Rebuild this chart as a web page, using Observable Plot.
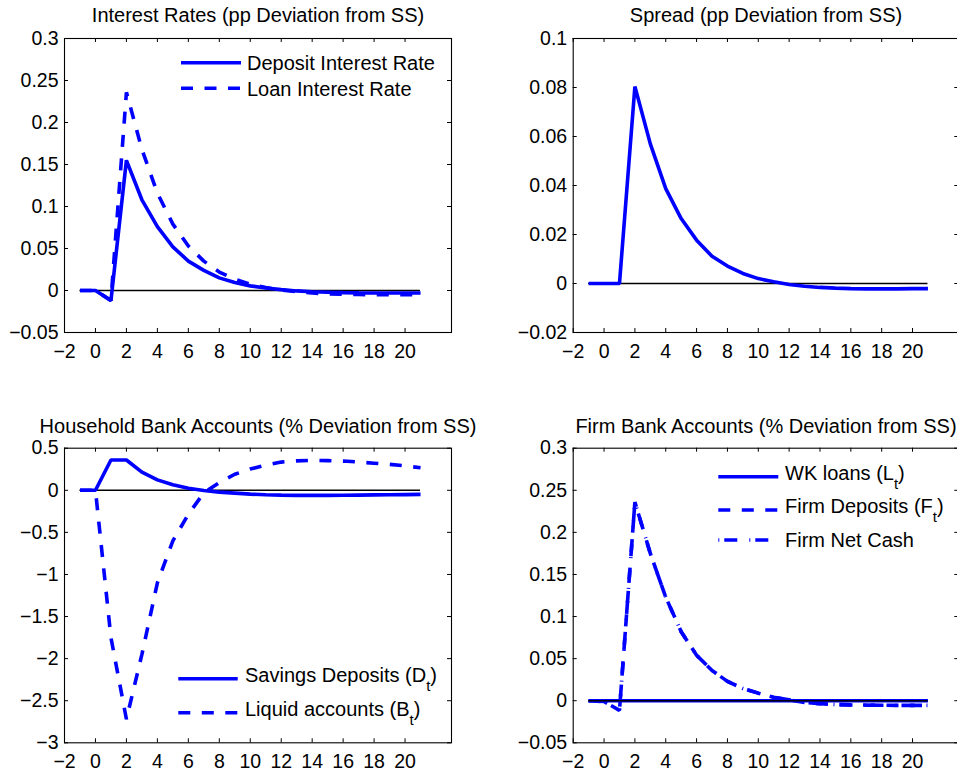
<!DOCTYPE html>
<html><head><meta charset="utf-8">
<script src="https://cdn.jsdelivr.net/npm/d3@7"></script>
<script src="https://cdn.jsdelivr.net/npm/@observablehq/plot@0.6"></script>
<style>
html,body{margin:0;padding:0;background:#fff;overflow:hidden;width:957px;height:771px}
#root{position:relative;width:957px;height:771px;overflow:hidden;background:#fff}
</style></head><body><div id="root"></div>
<script>
// ---- data ----
const periods = [-1,0,1,2,3,4,5,6,7,8,9,10,11,12,13,14,15,16,17,18,19,20,21];
const xTicks = [-2,0,2,4,6,8,10,12,14,16,18,20];

const depositRate = [0,0,-0.012,0.155,0.108,0.076,0.052,0.035,0.024,0.015,0.0095,0.0055,0.003,0.001,-0.0005,-0.0015,-0.002,-0.0025,-0.0028,-0.003,-0.003,-0.003,-0.003];
const loanRate = [0,0,-0.012,0.236,0.168,0.116,0.079,0.053,0.035,0.022,0.0135,0.0075,0.0035,0.0005,-0.0015,-0.003,-0.004,-0.0045,-0.0048,-0.005,-0.005,-0.005,-0.005];
const spread = [0,0,0,0.0804,0.057,0.0387,0.0265,0.0177,0.0111,0.0071,0.0041,0.002,0.0007,-0.0004,-0.0011,-0.0016,-0.0019,-0.0021,-0.0022,-0.0022,-0.0022,-0.0021,-0.0021];
const savingsDeposits = [0,0,0.36,0.36,0.215,0.124,0.065,0.025,-0.003,-0.022,-0.034,-0.046,-0.053,-0.058,-0.06,-0.06,-0.06,-0.059,-0.057,-0.055,-0.053,-0.051,-0.049];
const liquidAccounts = [0,0,-1.75,-2.72,-1.95,-1.1,-0.6,-0.285,-0.03,0.09,0.19,0.253,0.3,0.335,0.35,0.355,0.352,0.347,0.336,0.322,0.308,0.29,0.267];
const wkLoans = [0,0,0,0,0,0,0,0,0,0,0,0,0,0,0,0,0,0,0,0,0,0,0];
const firmDeposits = [0,-0.001,-0.0115,0.236,0.175,0.123,0.082,0.054,0.036,0.023,0.0145,0.009,0.004,0.001,-0.002,-0.0035,-0.0045,-0.005,-0.0052,-0.0054,-0.0055,-0.0055,-0.0055];
const firmNetCash = [0,-0.001,-0.0115,0.236,0.175,0.123,0.082,0.054,0.036,0.023,0.0145,0.009,0.004,0.001,-0.002,-0.0035,-0.0045,-0.005,-0.0052,-0.0054,-0.0055,-0.0055,-0.0055];

const ratesYTicks = [-0.05,0,0.05,0.1,0.15,0.2,0.25,0.3];
const spreadYTicks = [-0.02,0,0.02,0.04,0.06,0.08,0.1];
const householdYTicks = [-3,-2.5,-2,-1.5,-1,-0.5,0,0.5];
const firmYTicks = [-0.05,0,0.05,0.1,0.15,0.2,0.25,0.3];

const titles = [
  "Interest Rates (pp Deviation from SS)",
  "Spread (pp Deviation from SS)",
  "Household Bank Accounts (% Deviation from SS)",
  "Firm Bank Accounts (% Deviation from SS)"
];

// ---- styling ----
const FONT = '"Liberation Sans", Arial, Helvetica, sans-serif';
const BLUE = "#0000ff";
const LW = 3.6;
const DASH = "12,11.5";
const DASHDOT = "1,5,13,12";
const fmt = d => d === 0 ? "0" : (d < 0 ? "\u2212" : "") + String(Math.abs(d));

const root = document.getElementById("root");

function panel(cfg) {
  const {left, top, width, height, mL, mR, mT, mB, yDomain, yTicks, series, zeroOnTop, title, titleDy} = cfg;
  const innerW = width - mL - mR, innerH = height - mT - mB;
  const zero = Plot.ruleY([0], {x1: periods[0], x2: periods[periods.length - 1], stroke: "black", strokeWidth: 1.4});
  const lines = series.map(s => Plot.line(
    periods.map((t, i) => ({t, v: s.values[i]})),
    {x: "t", y: "v", stroke: BLUE, strokeWidth: LW, strokeDasharray: s.dash || null,
     strokeLinecap: "butt", strokeLinejoin: "miter"}
  ));
  const marks = [
    zeroOnTop ? null : zero,
    ...lines,
    zeroOnTop ? zero : null,
    Plot.frame({stroke: "black", strokeWidth: 1.1}),
    Plot.tickX(xTicks, {x: d => d, insetTop: innerH - 4, stroke: "black", strokeWidth: 1}),
    Plot.tickX(xTicks, {x: d => d, insetBottom: innerH - 4, stroke: "black", strokeWidth: 1}),
    Plot.tickY(yTicks, {y: d => d, insetRight: innerW - 4, stroke: "black", strokeWidth: 1}),
    Plot.tickY(yTicks, {y: d => d, insetLeft: innerW - 4, stroke: "black", strokeWidth: 1}),
    Plot.axisX({ticks: xTicks, tickSize: 0, tickPadding: 11.5, tickFormat: fmt, label: null, fontSize: 19.5, fill: "black"}),
    Plot.axisY({ticks: yTicks, tickSize: 0, tickPadding: 6, tickFormat: fmt, label: null, fontSize: 19.5, fill: "black"}),
    Plot.text([title], {text: d => d, frameAnchor: "top", lineAnchor: "bottom", dy: titleDy, fontSize: 20, fill: "black"})
  ].filter(Boolean);
  const svg = Plot.plot({
    width, height,
    marginLeft: mL, marginRight: mR, marginTop: mT, marginBottom: mB,
    x: {domain: [-2, 23], label: null},
    y: {domain: yDomain, label: null},
    style: {fontFamily: FONT, fontSize: "19.5px", color: "black", background: "transparent", overflow: "visible"},
    marks
  });
  svg.style.position = "absolute";
  svg.style.left = left + "px";
  svg.style.top = top + "px";
  root.appendChild(svg);
}

panel({left: 0, top: 0, width: 478, height: 385, mL: 64, mR: 27, mT: 38, mB: 53,
  yDomain: [-0.05, 0.3], yTicks: ratesYTicks, title: titles[0], titleDy: -16.3, zeroOnTop: false,
  series: [{values: depositRate}, {values: loanRate, dash: DASH}]});
panel({left: 478, top: 0, width: 482, height: 385, mL: 94.7, mR: 1.7, mT: 38, mB: 53,
  yDomain: [-0.02, 0.1], yTicks: spreadYTicks, title: titles[1], titleDy: -16.3, zeroOnTop: false,
  series: [{values: spread}]});
panel({left: 0, top: 385, width: 478, height: 386, mL: 64, mR: 27, mT: 62.7, mB: 28.7,
  yDomain: [-3, 0.5], yTicks: householdYTicks, title: titles[2], titleDy: -15.4, zeroOnTop: false,
  series: [{values: savingsDeposits}, {values: liquidAccounts, dash: DASH}]});
panel({left: 478, top: 385, width: 482, height: 386, mL: 94.7, mR: 1.7, mT: 62.7, mB: 28.7,
  yDomain: [-0.05, 0.3], yTicks: firmYTicks, title: titles[3], titleDy: -15.4, zeroOnTop: true,
  series: [{values: wkLoans}, {values: firmDeposits, dash: DASH}, {values: firmNetCash, dash: DASHDOT}]});

// ---- legends (overlay) ----
const legends = [
  {x1: 181, x2: 241, tx: 247, rows: [
    {y: 62.7, dy: 7.2, dash: null, parts: [["Deposit Interest Rate"]]},
    {y: 88.3, dy: 7.2, dash: DASH, parts: [["Loan Interest Rate"]]}
  ]},
  {x1: 178.3, x2: 237.7, tx: 245, rows: [
    {y: 678.7, dy: 3.6, dash: null, parts: [["Savings Deposits (D"], ["t", true], [")"]]},
    {y: 712.7, dy: 3.6, dash: DASH, parts: [["Liquid accounts (B"], ["t", true], [")"]]}
  ]},
  {x1: 718.3, x2: 778.3, tx: 785, rows: [
    {y: 476.7, dy: 3.4, dash: null, parts: [["WK loans (L"], ["t", true], [")"]]},
    {y: 510, dy: 3.4, dash: DASH, parts: [["Firm Deposits (F"], ["t", true], [")"]]},
    {y: 540, dy: 6.8, dash: DASHDOT, parts: [["Firm Net Cash"]]}
  ]}
];
const ov = d3.select(root).append("svg")
  .attr("width", 957).attr("height", 771)
  .style("position", "absolute").style("left", "0px").style("top", "0px")
  .style("font-family", FONT);
for (const lg of legends) {
  for (const r of lg.rows) {
    ov.append("line").attr("x1", lg.x1).attr("x2", lg.x2).attr("y1", r.y).attr("y2", r.y)
      .attr("stroke", BLUE).attr("stroke-width", LW).attr("stroke-dasharray", r.dash)
      .attr("stroke-linecap", "butt");
    const t = ov.append("text").attr("x", lg.tx).attr("y", r.y + r.dy)
      .attr("font-size", 20).attr("fill", "black");
    let shifted = false;
    for (const [s, sub] of r.parts) {
      const sp = t.append("tspan").text(s);
      if (sub) { sp.attr("font-size", 15).attr("dy", 9); shifted = true; }
      else if (shifted) { sp.attr("dy", -9); shifted = false; }
    }
  }
}
</script></body></html>
